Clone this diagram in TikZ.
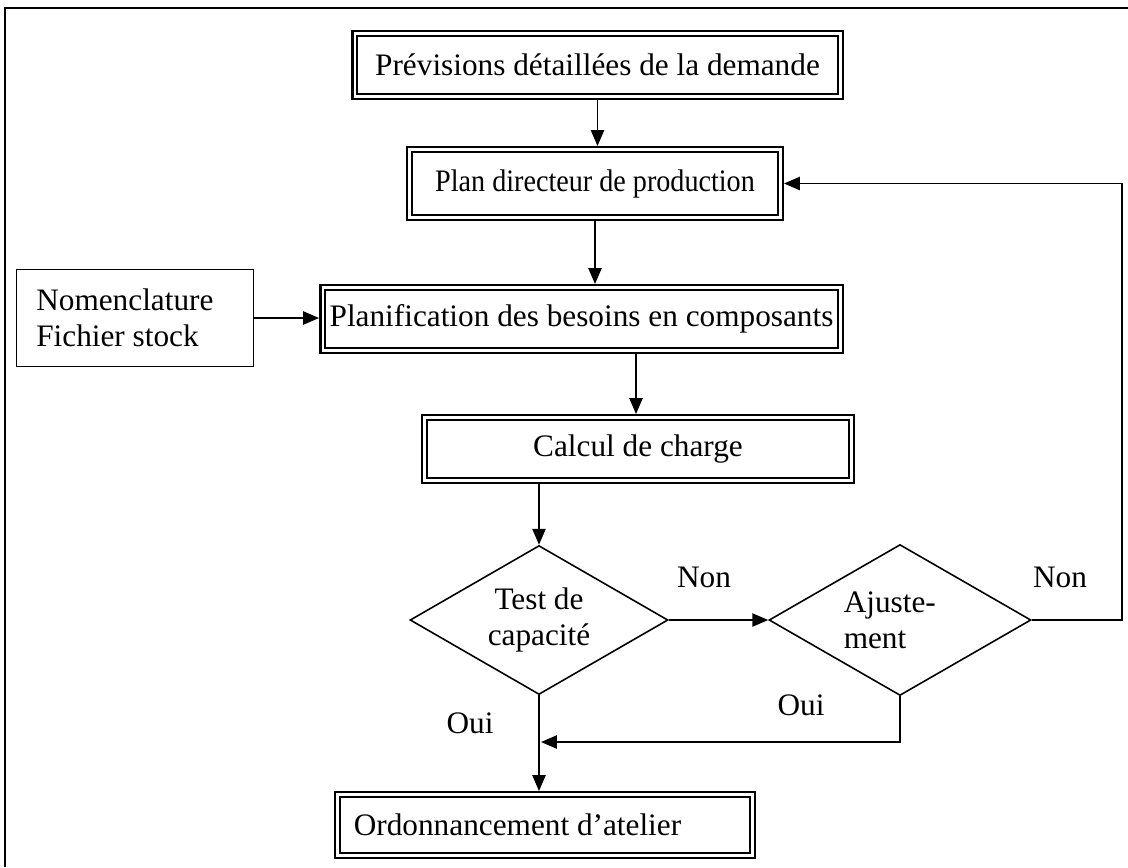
\documentclass[tikz,border=0pt]{standalone}
\usepackage{fontspec}
\setmainfont{Liberation Serif}
\usepackage{graphicx}
\usepackage{tikz}
\usetikzlibrary{arrows.meta, shapes.geometric, calc}

\begin{document}
\begin{tikzpicture}[x=0.02cm, y=-0.02cm,
      >={Triangle[length=9pt, width=7.5pt]},
      font=\fontsize{17.8}{20.5}\selectfont,
      dbl/.style={draw, double, line width=1.4pt, double distance=1.2pt, outer sep=2pt, inner sep=2pt, fill=white},
      plain/.style={draw, line width=0.9pt, inner sep=2pt, align=left},
      dec/.style={draw, diamond, shape aspect=1.73, line width=0.9pt, inner sep=0pt},
      arr/.style={->, line width=0.9pt},
      lbl/.style={inner sep=1pt}]
    \useasboundingbox (0,0) rectangle (1128,867);
    % cadre
    \draw[line width=1.1pt] (5,867) -- (5,8) -- (1128,8);
    % blocs
    \node[dbl, minimum width=9.72cm, minimum height=1.26cm] (prev) at (597.5,65) {Prévisions détaillées de la demande};
    \node[dbl, minimum width=7.42cm, minimum height=1.36cm] (pdp) at (595,183.5) {\scalebox{0.9}[1]{Plan directeur de production}};
    \node[dbl, minimum width=10.36cm, minimum height=1.26cm] (pbc) at (581.5,319) {Planification des besoins en composants};
    \node[dbl, minimum width=8.54cm, minimum height=1.26cm] (calc) at (638,449) {Calcul de charge};
    \node[dbl, minimum width=8.30cm, minimum height=1.22cm] (ord) at (545,825) {Ordonnancement d’atelier\hspace*{1.1cm}};
    \node[plain, minimum width=4.74cm, minimum height=1.94cm] (nom) at (135,318) {Nomenclature\\Fichier stock\hspace*{0.7cm}};
    \node[dec, minimum width=5.16cm, minimum height=2.98cm, align=center] (test) at (539,620) {Test de\\capacité};
    \node[dec, minimum width=5.24cm, minimum height=3.02cm, align=left] (ajust) at (900,620) {Ajuste-\\ment\hspace*{1.0cm}};
    \coordinate (fb) at (1122,620);
    \coordinate (jn) at (541,742);
    % liaisons
    \draw[arr] (prev.south) -- (prev.south |- pdp.north);
    \draw[arr] (pdp.south) -- (pdp.south |- pbc.north);
    \draw[arr] (calc.north |- pbc.south) ++(-2,0) -- ($(calc.north)+(-2,0)$);
    \draw[arr] (test.north |- calc.south) -- (test.north);
    \draw[arr] (nom.east) -- (nom.east -| pbc.west);
    \draw[arr] (test.east) -- (ajust.west);
    \draw[arr] (ajust.east) -- (fb) |- (pdp.east);
    \draw[arr] (ajust.south) |- (jn);
    \draw[arr] (test.south) -- (test.south |- ord.north);
    % etiquettes
    \node[lbl] (n1) at (704,577) {Non};
    \node[lbl] (n2) at (1060,577) {Non};
    \node[lbl] (o1) at (470,723) {Oui};
    \node[lbl] (o2) at (801,705) {Oui};
\end{tikzpicture}
\end{document}
